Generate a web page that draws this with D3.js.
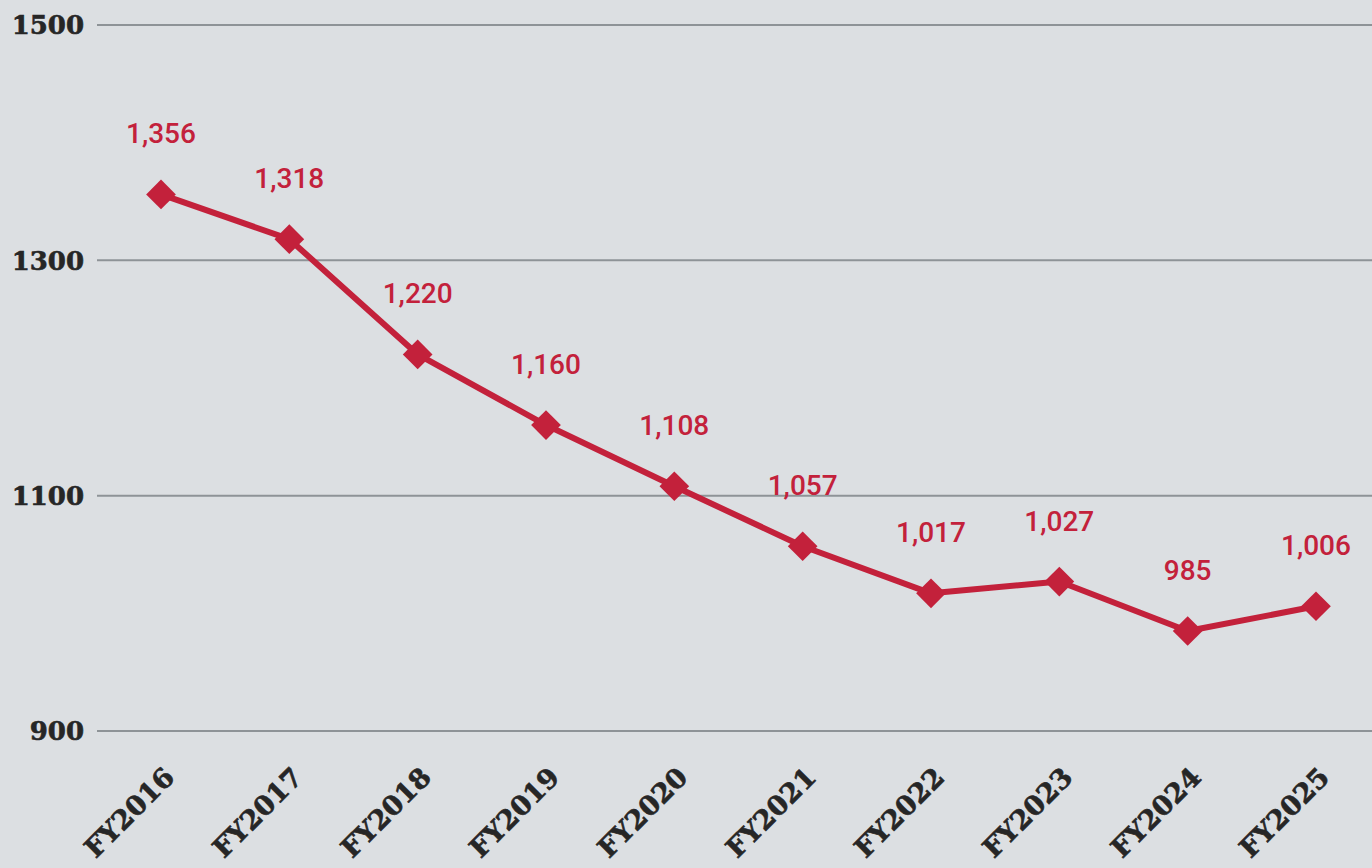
<!DOCTYPE html>
<html><head><meta charset="utf-8">
<script src="https://cdn.jsdelivr.net/npm/d3@7"></script>
<style>
html,body{margin:0;padding:0;background:#dcdfe2;}
svg{display:block;}
</style></head>
<body>
<svg id="chart" width="1372" height="868"></svg>
<script>
const categories = ["FY2016","FY2017","FY2018","FY2019","FY2020","FY2021","FY2022","FY2023","FY2024","FY2025"];
const values = [1356,1318,1220,1160,1108,1057,1017,1027,985,1006];
const yTicks = [900,1100,1300,1500];

const svg = d3.select("#chart");
const W = 1372, H = 868;
svg.append("rect").attr("width",W).attr("height",H).attr("fill","#dcdfe2");

const x = d3.scalePoint().domain(categories).range([161,1316]);
const y = d3.scaleLinear().domain([900,1500]).range([731,25]);

// gridlines
svg.append("g").selectAll("line").data(yTicks).join("line")
  .attr("x1",97).attr("x2",W)
  .attr("y1",d=>y(d)).attr("y2",d=>y(d))
  .attr("stroke","#8e9397").attr("stroke-width",2);

// y labels
svg.append("g").selectAll("text").data(yTicks).join("text")
  .attr("x",84).attr("y",d=>y(d)).attr("dy","0.36em")
  .attr("text-anchor","end")
  .attr("font-family","'DejaVu Serif', serif").attr("font-weight","bold")
  .attr("font-size",26).attr("fill","#262626")
  .style("stroke","#262626").style("stroke-width",0.6)
  .text(d=>d);

// x labels
svg.append("g").selectAll("text").data(categories).join("text")
  .attr("transform",d=>`translate(${x(d)+15},${779}) rotate(-45)`)
  .attr("text-anchor","end")
  .attr("font-family","'DejaVu Serif', serif").attr("font-weight","bold")
  .attr("font-size",27).attr("fill","#262626")
  .style("stroke","#262626").style("stroke-width",0.6)
  .text(d=>d);

const data = categories.map((c,i)=>({c,v:values[i]}));
const red = "#c3213b";

svg.append("path").datum(data)
  .attr("d",d3.line().x(d=>x(d.c)).y(d=>y(d.v)))
  .attr("fill","none").attr("stroke",red).attr("stroke-width",6).attr("stroke-linejoin","round");

svg.append("g").selectAll("path").data(data).join("path")
  .attr("d",d3.symbol(d3.symbolSquare, 21*21)())
  .attr("transform",d=>`translate(${x(d.c)},${y(d.v)}) rotate(45)`)
  .attr("fill",red);

const fmt = d3.format(",");
svg.append("g").selectAll("text").data(data).join("text")
  .attr("x",d=>x(d.c)).attr("y",d=>y(d.v)-51)
  .attr("text-anchor","middle")
  .attr("font-family","Roboto, 'Liberation Sans', sans-serif").attr("font-weight",500)
  .attr("font-size",28).attr("fill",red)
  .text(d=>fmt(d.v));
</script>
</body></html>
